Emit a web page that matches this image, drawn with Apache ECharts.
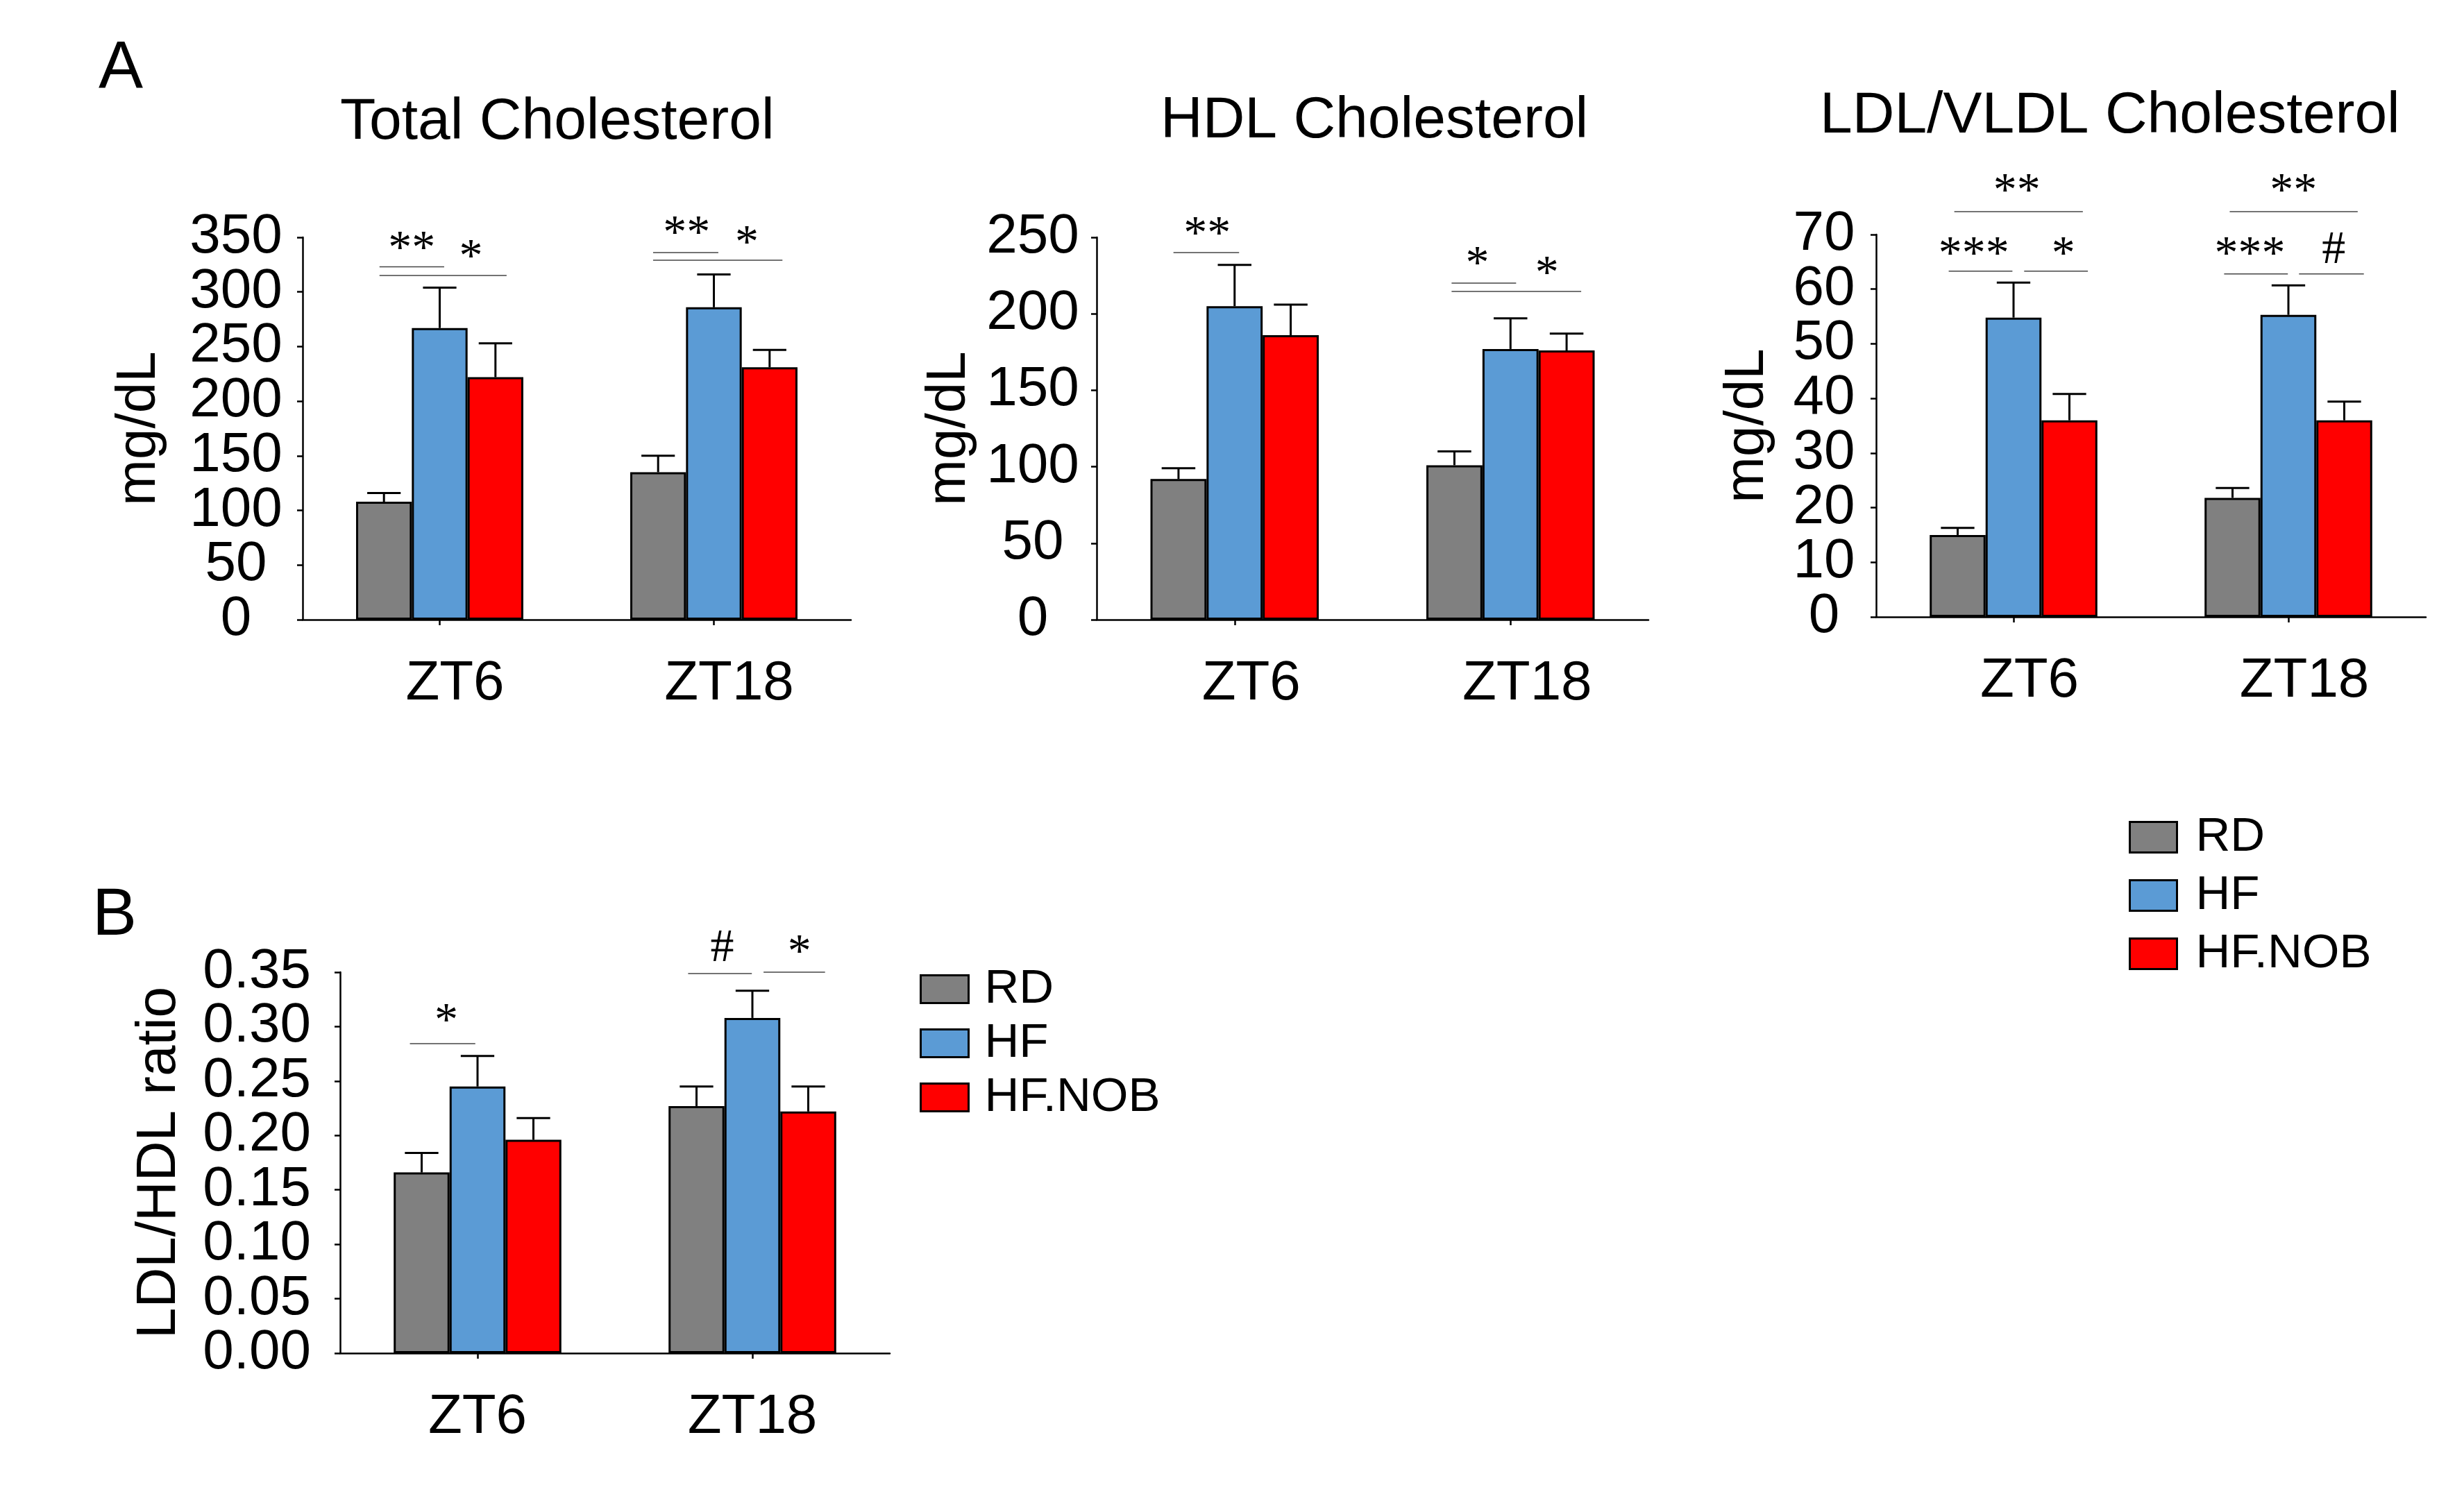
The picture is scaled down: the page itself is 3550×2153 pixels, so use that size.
<!DOCTYPE html>
<html lang="en">
<head>
    <meta charset="UTF-8">
    <title>Cholesterol</title>
    <script src="https://cdn.jsdelivr.net/npm/echarts@6/dist/echarts.min.js"></script>
    <style>html,body{margin:0;padding:0;background:#fff;}</style>
</head>
<body>
    <div id="main" style="width: 3550px;height: 2153px"></div>
    <script type="text/javascript">
        var categories = ['ZT6', 'ZT18'];
        var groups = ['RD', 'HF', 'HF.NOB'];

        // each row is one group (RD, HF, HF.NOB), columns are ZT6 / ZT18
        var totalMean = [[108, 135], [267, 286], [222, 231]];
        var totalErr = [[8, 15], [37, 30], [31, 16]];
        var hdlMean = [[92, 101], [205, 177], [186, 176]];
        var hdlErr = [[7, 9], [27, 20], [20, 11]];
        var ldlMean = [[15, 21.8], [54.8, 55.3], [36, 36]];
        var ldlErr = [[1.3, 1.8], [6.4, 5.4], [4.8, 3.4]];
        var ratioMean = [[0.166, 0.227], [0.245, 0.308], [0.196, 0.222]];
        var ratioErr = [[0.018, 0.018], [0.028, 0.025], [0.020, 0.023]];

        // significance brackets: [category, from, to (in bar widths from group left), y value]
        var totalLines = [[0, 0.42, 1.58, 323], [0, 0.42, 2.7, 315], [1, 0.41, 1.58, 336], [1, 0.41, 2.73, 329]];
        var totalMarks = [[0, 1.0, 345, '**'], [0, 2.06, 337, '*'], [1, 1.01, 359, '**'], [1, 2.09, 350, '*']];
        var hdlLines = [[0, 0.41, 1.58, 240], [1, 0.45, 1.6, 220], [1, 0.45, 2.76, 214.6]];
        var hdlMarks = [[0, 1.01, 256, '**'], [1, 0.91, 236.4, '*'], [1, 2.15, 230, '*']];
        var ldlLines = [[0, 0.44, 2.74, 74.2], [0, 0.34, 1.48, 63.3], [0, 1.69, 2.83, 63.3],
                        [1, 0.45, 2.74, 74.2], [1, 0.35, 1.49, 62.8], [1, 1.69, 2.85, 62.8]];
        var ldlMarks = [[0, 1.56, 79, '**'], [0, 0.79, 67.5, '***'], [0, 2.39, 67.5, '*'],
                        [1, 1.59, 79, '**'], [1, 0.81, 67.5, '***'], [1, 2.31, 67.1, '#']];
        var ratioLines = [[0, 0.29, 1.46, 0.2843], [1, 0.35, 1.49, 0.3487], [1, 1.7, 2.8, 0.35]];
        var ratioMarks = [[0, 0.94, 0.3105, '*'], [1, 0.96, 0.3717, '#'], [1, 2.34, 0.3736, '*']];

        var FONT = 'Liberation Sans';
        var MARKFONT = 'Liberation Serif';
        var colors = ['#808080', '#5b9bd5', '#ff0000'];
        var GAP = 0.39;

        var series = [];

        function barWidthOf(api) {
            return api.size([1, 0])[0] * (1 - GAP) / 3;
        }

        function addPanel(idx, means, errs, lines, marks) {
            for (var g = 0; g < 3; g++) {
                series.push({
                    type: 'bar',
                    name: groups[g],
                    xAxisIndex: idx,
                    yAxisIndex: idx,
                    data: means[g],
                    barGap: '0%',
                    barCategoryGap: (GAP * 100) + '%',
                    itemStyle: {color: colors[g], borderColor: '#000', borderWidth: 3},
                    silent: true
                });
            }
            var errData = [];
            for (var g2 = 0; g2 < 3; g2++) {
                for (var c = 0; c < categories.length; c++) {
                    errData.push([c, g2, means[g2][c], means[g2][c] + errs[g2][c]]);
                }
            }
            series.push({
                type: 'custom',
                xAxisIndex: idx,
                yAxisIndex: idx,
                data: errData,
                encode: {x: 0, y: 3},
                z: 3,
                silent: true,
                renderItem: function (params, api) {
                    var base = api.coord([api.value(0), api.value(2)]);
                    var top = api.coord([api.value(0), api.value(3)]);
                    var bw = barWidthOf(api);
                    var x = base[0] + (api.value(1) - 1) * bw;
                    var cap = bw * 0.3;
                    var st = {stroke: '#000', lineWidth: 3};
                    return {type: 'group', children: [
                        {type: 'line', shape: {x1: x, y1: base[1], x2: x, y2: top[1]}, style: st},
                        {type: 'line', shape: {x1: x - cap, y1: top[1], x2: x + cap, y2: top[1]}, style: st}
                    ]};
                }
            });
            series.push({
                type: 'custom',
                xAxisIndex: idx,
                yAxisIndex: idx,
                data: lines,
                encode: {x: 0, y: 3},
                silent: true,
                renderItem: function (params, api) {
                    var p = api.coord([api.value(0), api.value(3)]);
                    var bw = barWidthOf(api);
                    var left = p[0] - 1.5 * bw;
                    return {type: 'line',
                        shape: {x1: left + api.value(1) * bw, y1: p[1], x2: left + api.value(2) * bw, y2: p[1]},
                        style: {stroke: '#444', lineWidth: 1.5}};
                }
            });
            series.push({
                type: 'custom',
                xAxisIndex: idx,
                yAxisIndex: idx,
                data: marks.map(function (m) { return [m[0], m[1], m[2]]; }),
                encode: {x: 0, y: 2},
                silent: true,
                renderItem: function (params, api) {
                    var p = api.coord([api.value(0), api.value(2)]);
                    var bw = barWidthOf(api);
                    var left = p[0] - 1.5 * bw;
                    var txt = marks[params.dataIndex][3];
                    // asterisks sit high in the em box, nudge them down a little
                    var dy = txt.charAt(0) === '*' ? 10 : 0;
                    return {type: 'text',
                        style: {x: left + api.value(1) * bw, y: p[1] + dy, text: txt,
                            fontSize: 68, fontFamily: MARKFONT, fill: '#000',
                            align: 'center', verticalAlign: 'middle'}};
                }
            });
        }

        addPanel(0, totalMean, totalErr, totalLines, totalMarks);
        addPanel(1, hdlMean, hdlErr, hdlLines, hdlMarks);
        addPanel(2, ldlMean, ldlErr, ldlLines, ldlMarks);
        addPanel(3, ratioMean, ratioErr, ratioLines, ratioMarks);

        var axisLine = {show: true, lineStyle: {color: '#000', width: 2.5}};
        var axisTick = {show: true, length: 8, lineStyle: {color: '#000', width: 2.5}};

        function xAxis(idx, shift) {
            return {
                type: 'category', gridIndex: idx, data: categories,
                axisLine: axisLine,
                axisTick: {show: true, alignWithLabel: true, length: 8, lineStyle: {color: '#000', width: 2.5}},
                axisLabel: {fontSize: 80, color: '#000', fontFamily: FONT, margin: 53, padding: [0, 0, 0, shift]}
            };
        }

        // the tick labels touch each other, so each value axis is drawn twice:
        // part 0 carries line, ticks, name and the even labels, part 1 the odd labels
        function yAxis(idx, max, interval, margin, align, name, nameGap, digits, part) {
            var ax = {
                type: 'value', gridIndex: idx, position: 'left', offset: 0,
                min: 0, max: max, interval: interval,
                axisLine: part ? {show: false} : axisLine,
                axisTick: part ? {show: false} : axisTick,
                splitLine: {show: false},
                axisLabel: {
                    fontSize: 80, color: '#000', fontFamily: FONT, margin: margin, align: align,
                    showMinLabel: true, showMaxLabel: true,
                    formatter: function (v, i) {
                        var k = Math.round(v / interval);
                        return k % 2 === part ? v.toFixed(digits) : '';
                    }
                }
            };
            if (!part) {
                ax.name = name;
                ax.nameLocation = 'middle';
                ax.nameGap = nameGap;
                ax.nameTextStyle = {fontSize: 80, color: '#000', fontFamily: FONT};
            }
            return ax;
        }

        var yAxes = [];
        var yDefs = [
            [0, 350, 50, 96, 'center', 'mg/dL', 195, 0],
            [1, 250, 50, 92, 'center', 'mg/dL', 172, 0],
            [2, 70, 10, 75, 'center', 'mg/dL', 145, 0],
            [3, 0.35, 0.05, 42, 'right', 'LDL/HDL ratio', 220, 2]
        ];
        [0, 1].forEach(function (part) {
            yDefs.forEach(function (d) {
                yAxes.push(yAxis(d[0], d[1], d[2], d[3], d[4], d[5], d[6], d[7], part));
            });
        });

        var titleStyle = {fontSize: 84, fontWeight: 'normal', color: '#000', fontFamily: FONT};
        var legendBase = {
            data: groups, orient: 'vertical', icon: 'rect', selectedMode: false, padding: 0,
            itemStyle: {borderColor: '#000', borderWidth: 3}
        };

        var option = {
            animation: false,
            backgroundColor: '#fff',
            title: [
                {text: 'A', left: 142, top: 52, padding: 0, textStyle: {fontSize: 96, fontWeight: 'normal', color: '#000', fontFamily: FONT}},
                {text: 'B', left: 133, top: 1273, padding: 0, textStyle: {fontSize: 96, fontWeight: 'normal', color: '#000', fontFamily: FONT}},
                {text: 'Total Cholesterol', left: 490, top: 135, padding: 0, textStyle: titleStyle},
                {text: 'HDL Cholesterol', left: 1672, top: 133, padding: 0, textStyle: titleStyle},
                {text: 'LDL/VLDL Cholesterol', left: 2622, top: 126, padding: 0, textStyle: titleStyle}
            ],
            legend: [
                Object.assign({left: 3067, top: 1172, itemWidth: 68, itemHeight: 44, itemGap: 15,
                    textStyle: {fontSize: 69, color: '#000', fontFamily: FONT, padding: [0, 0, 0, 22]}}, legendBase),
                Object.assign({left: 1325, top: 1391, itemWidth: 69, itemHeight: 40, itemGap: 9,
                    textStyle: {fontSize: 69, color: '#000', fontFamily: FONT, padding: [0, 0, 0, 18]}}, legendBase)
            ],
            grid: [
                {left: 436, top: 342, width: 790, height: 551},
                {left: 1580, top: 342, width: 795, height: 551},
                {left: 2703, top: 338, width: 792, height: 551},
                {left: 490, top: 1401, width: 792, height: 549}
            ],
            xAxis: [xAxis(0, 44), xAxis(1, 48), xAxis(2, 46), xAxis(3, 0)],
            yAxis: yAxes,
            series: series
        };

        var myChart = echarts.init(document.getElementById('main'));
        myChart.setOption(option);
    </script>
</body>
</html>
